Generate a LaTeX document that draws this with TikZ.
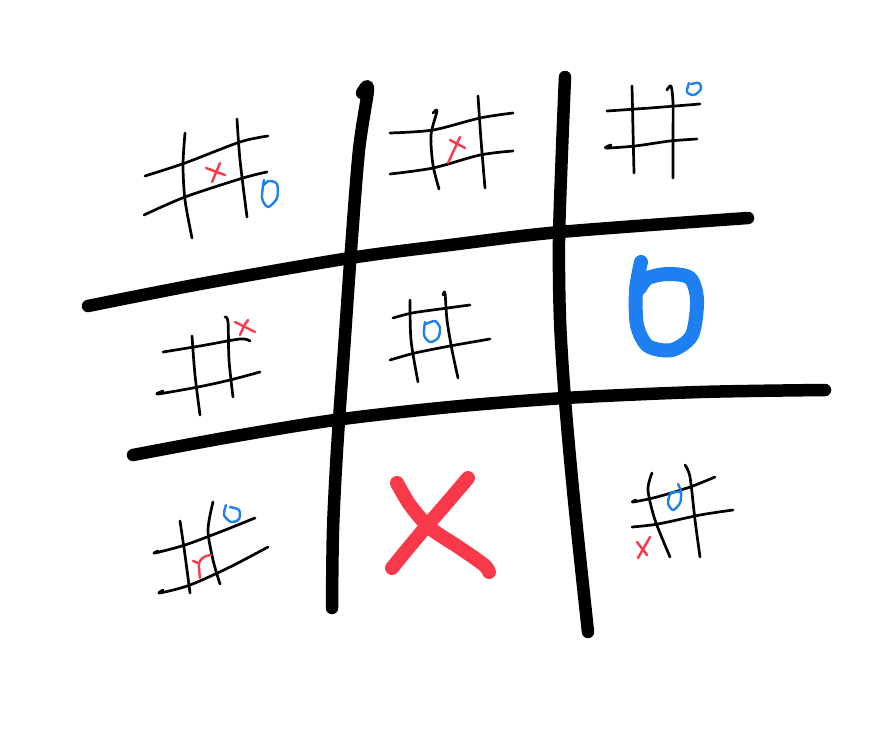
\documentclass[tikz,border=0pt]{standalone}
\usepackage{tikz}
\definecolor{kreuz}{HTML}{F9384A}
\definecolor{kreis}{HTML}{1E80F0}
\definecolor{tinte}{HTML}{000000}

\begin{document}
\begin{tikzpicture}[x=1pt,y=-1pt,
  bigline/.style={tinte, line width=12.5pt, line cap=round, line join=round},
  smallline/.style={tinte, line width=2.7pt, line cap=round, line join=round},
  smallx/.style={kreuz, line width=2.4pt, line cap=round, line join=round},
  smallo/.style={kreis, line width=2.4pt, line cap=round, line join=round},
  bigx/.style={kreuz, line width=14pt, line cap=round, line join=round},
  bigo/.style={kreis, line width=14pt, line cap=round, line join=round}]
\useasboundingbox (0,0) rectangle (896,733);

% Big grid
\draw[bigline] plot[smooth] coordinates {(362,93) (368,89) (359,150) (351,250) (344,350) (337,450) (333,530) (332,608)};
\draw[bigline] plot[smooth] coordinates {(565,77) (562,150) (559,240) (560,320) (565,400) (574,500) (588,632)};
\draw[bigline] plot[smooth] coordinates {(88,306) (200,284) (350,258) (450,245) (560,232) (748,218)};
\draw[bigline] plot[smooth] coordinates {(133,455) (230,437) (335,420) (450,407) (565,398) (700,392) (825,390)};

% Top left board
\draw[smallline] plot[smooth] coordinates {(145,176) (185,163) (240,142) (268,136)};
\draw[smallline] plot[smooth] coordinates {(144,215) (185,197) (243,178) (267,172)};
\draw[smallline] plot[smooth] coordinates {(185,133) (183,165) (185,200) (192,238)};
\draw[smallline] plot[smooth] coordinates {(237,119) (240,160) (247,217)};
\draw[smallx] (206,168) -- (225,175);
\draw[smallx] (220,163) -- (212,182);
\draw[smallo] plot[smooth] coordinates {(264,180) (262,198) (268,207) (277,198) (277,184) (269,181) (264,185)};

% Top middle board
\draw[smallline] plot[smooth] coordinates {(390,133) (433,130) (480,118) (513,113)};
\draw[smallline] plot[smooth] coordinates {(390,174) (433,168) (480,155) (513,151)};
\draw[smallline] plot[smooth] coordinates {(433,113) (437,111) (431,135) (433,165) (439,189)};
\draw[smallline] plot[smooth] coordinates {(478,96) (481,140) (485,188)};
\draw[smallx] (450,140) -- (465,148);
\draw[smallx] (460,137) -- (448,163);

% Top right board
\draw[smallline] plot[smooth] coordinates {(632,86) (633,130) (634,173)};
\draw[smallline] plot[smooth] coordinates {(667,90) (671,86) (673,103) (673,140) (673,178)};
\draw[smallline] plot[smooth] coordinates {(607,111) (650,108) (700,104)};
\draw[smallline] plot[smooth] coordinates {(611,145) (606,148) (635,146) (670,141) (697,139)};
\draw[smallo] plot[smooth] coordinates {(689,83) (687,92) (694,95) (701,89) (699,83) (691,84)};

% Middle left board
\draw[smallline] plot[smooth] coordinates {(163,352) (200,346) (240,339) (250,341)};
\draw[smallline] plot[smooth] coordinates {(163,391) (158,394) (198,387) (230,380) (260,372)};
\draw[smallline] plot[smooth] coordinates {(192,336) (195,375) (200,415)};
\draw[smallline] plot[smooth] coordinates {(225,317) (228,322) (229,360) (233,397)};
\draw[smallx] plot[smooth] coordinates {(240,335) (244,326) (248,320)};
\draw[smallx] (235,322) -- (255,332);

% Middle board
\draw[smallline] plot[smooth] coordinates {(393,318) (412,313) (440,309) (470,305)};
\draw[smallline] plot[smooth] coordinates {(390,360) (415,353) (450,346) (490,339)};
\draw[smallline] plot[smooth] coordinates {(410,300) (411,340) (418,382)};
\draw[smallline] plot[smooth] coordinates {(443,295) (445,293) (447,320) (452,350) (458,378)};
\draw[smallo] plot[smooth] coordinates {(425,322) (424,335) (430,342) (438,338) (440,328) (435,321) (426,324)};

% Middle right: won by O
\draw[bigo] plot[smooth] coordinates {(641,262) (636,290) (637,325) (648,346) (672,350) (692,335) (697,300) (690,278) (668,274) (648,278) (640,288)};

% Bottom left board
\draw[smallline] plot[smooth] coordinates {(158,551) (155,553) (185,545) (220,532) (255,518)};
\draw[smallline] plot[smooth] coordinates {(163,590) (160,593) (190,585) (230,567) (268,547)};
\draw[smallline] plot[smooth] coordinates {(180,521) (185,555) (190,593)};
\draw[smallline] plot[smooth] coordinates {(213,502) (208,530) (213,560) (220,584)};
\draw[smallo] plot[smooth] coordinates {(226,505) (224,515) (231,522) (239,519) (239,510) (230,507)};
\draw[smallx] plot[smooth] coordinates {(200,578) (199,563) (204,557) (211,555)};
\draw[smallx] (193,561) -- (198,563);

% Bottom middle: won by X
\draw[bigx] plot[smooth] coordinates {(397,483) (410,505) (430,528) (460,548) (484,565) (489,572)};
\draw[bigx] plot[smooth] coordinates {(468,478) (445,505) (425,528) (405,552) (392,568)};

% Bottom right board
\draw[smallline] plot[smooth] coordinates {(636,500) (633,502) (657,497) (690,487) (715,477)};
\draw[smallline] plot[smooth] coordinates {(632,527) (658,524) (700,515) (733,510)};
\draw[smallline] plot[smooth] coordinates {(652,473) (648,490) (655,520) (670,557)};
\draw[smallline] plot[smooth] coordinates {(685,465) (690,477) (695,520) (700,557)};
\draw[smallo] plot[smooth] coordinates {(678,484) (681,492) (680,503) (673,510) (668,503) (671,493) (680,492)};
\draw[smallx] (637,542) -- (647,555);
\draw[smallx] (650,537) -- (638,558);
\end{tikzpicture}
\end{document}
